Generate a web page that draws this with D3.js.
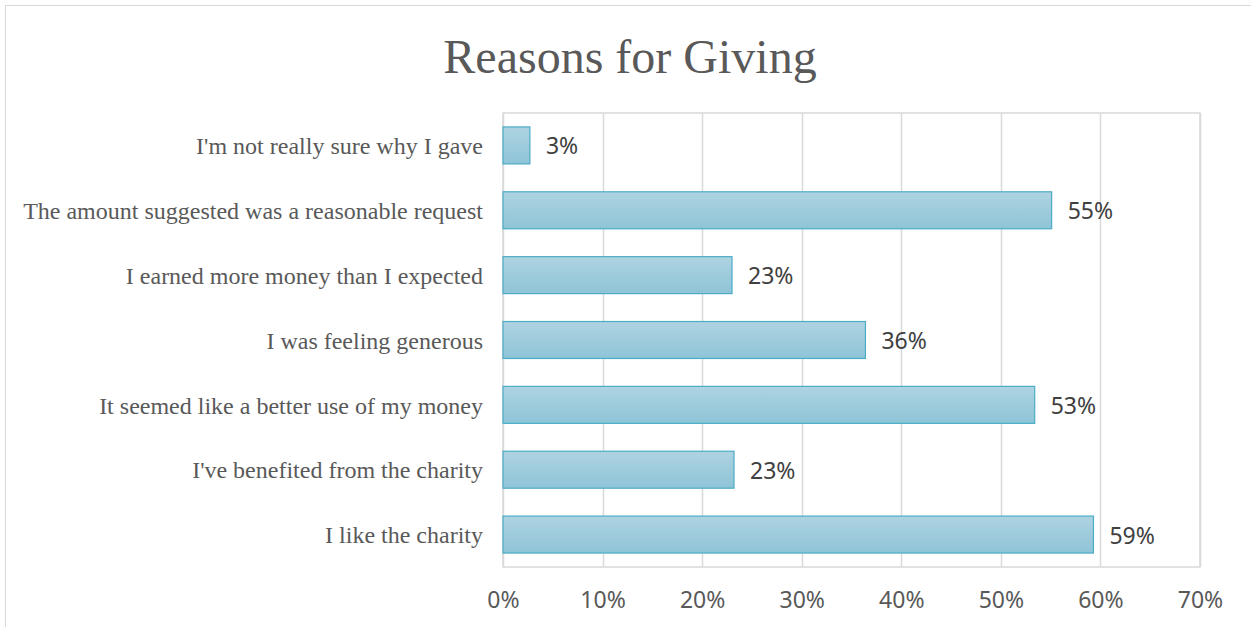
<!DOCTYPE html>
<html><head><meta charset="utf-8">
<script src="https://cdn.jsdelivr.net/npm/d3@7"></script>
<style>body{margin:0;background:#fff;} svg{display:block;}</style>
</head><body>
<svg id="c" width="1251" height="627"></svg>
<script>
const categories = ["I'm not really sure why I gave","The amount suggested was a reasonable request","I earned more money than I expected","I was feeling generous","It seemed like a better use of my money","I've benefited from the charity","I like the charity"];
const values = [0.027,0.551,0.230,0.364,0.534,0.232,0.593];
const ticks = [0,0.1,0.2,0.3,0.4,0.5,0.6,0.7];
const title = "Reasons for Giving";

const svg = d3.select("#c");
const W=1251,H=627;
const m={left:503,right:1200,top:113,bottom:567};
svg.append("rect").attr("x",5.5).attr("y",5.5).attr("width",W+10).attr("height",H+10).attr("fill","#fff").attr("stroke","#d9d9d9");

const defs=svg.append("defs");
const g=defs.append("linearGradient").attr("id","bg").attr("x1",0).attr("y1",0).attr("x2",0).attr("y2",1);
g.append("stop").attr("offset","0%").attr("stop-color","#aed3e1");
g.append("stop").attr("offset","100%").attr("stop-color","#8ec4d7");

const x=d3.scaleLinear().domain([0,0.7]).range([m.left,m.right]);
const y=d3.scaleBand().domain(categories).range([m.top,m.bottom]).paddingInner(0.43).paddingOuter(0.215);

// gridlines
svg.append("g").selectAll("line").data(ticks).join("line")
 .attr("x1",d=>Math.round(x(d))+0.5).attr("x2",d=>Math.round(x(d))+0.5)
 .attr("y1",m.top).attr("y2",m.bottom).attr("stroke","#d9d9d9").attr("stroke-width",1.5);
svg.append("rect").attr("x",m.left).attr("y",m.top).attr("width",m.right-m.left).attr("height",m.bottom-m.top)
 .attr("fill","none").attr("stroke","#d9d9d9").attr("stroke-width",1.5);

// bars
svg.append("g").selectAll("rect").data(values).join("rect")
 .attr("x",x(0)).attr("y",(d,i)=>y(categories[i]))
 .attr("width",d=>x(d)-x(0)).attr("height",y.bandwidth())
 .attr("fill","url(#bg)").attr("stroke","#4bacc6").attr("stroke-width",1.2);

// data labels
svg.append("g").selectAll("text").data(values).join("text")
 .attr("x",d=>x(d)+16).attr("y",(d,i)=>y(categories[i])+y.bandwidth()/2+1)
 .attr("dy","0.35em").attr("font-family","'Noto Sans', sans-serif").attr("font-size",23)
 .attr("fill","#404040").text(d=>d3.format(".0%")(d));

// category labels
const ya=d3.axisLeft(y).tickSize(0).tickPadding(20);
const yg=svg.append("g").attr("transform",`translate(${m.left},1)`).call(ya);
yg.select(".domain").remove();
yg.selectAll("text").attr("font-family","'Liberation Serif', 'Times New Roman', serif").attr("font-size",24).attr("fill","#595959");

// x axis
const xa=d3.axisBottom(x).tickValues(ticks).tickFormat(d3.format(".0%")).tickSize(0).tickPadding(25);
const xg=svg.append("g").attr("transform",`translate(0,${m.bottom})`).call(xa);
xg.select(".domain").remove();
xg.selectAll("text").attr("font-family","'Noto Sans', sans-serif").attr("font-size",23).attr("fill","#595959");

svg.append("text").attr("x",630).attr("y",73).attr("text-anchor","middle")
 .attr("font-family","'Liberation Serif', 'Times New Roman', serif").attr("font-size",48).attr("fill","#595959").text(title);
</script>
</body></html>
